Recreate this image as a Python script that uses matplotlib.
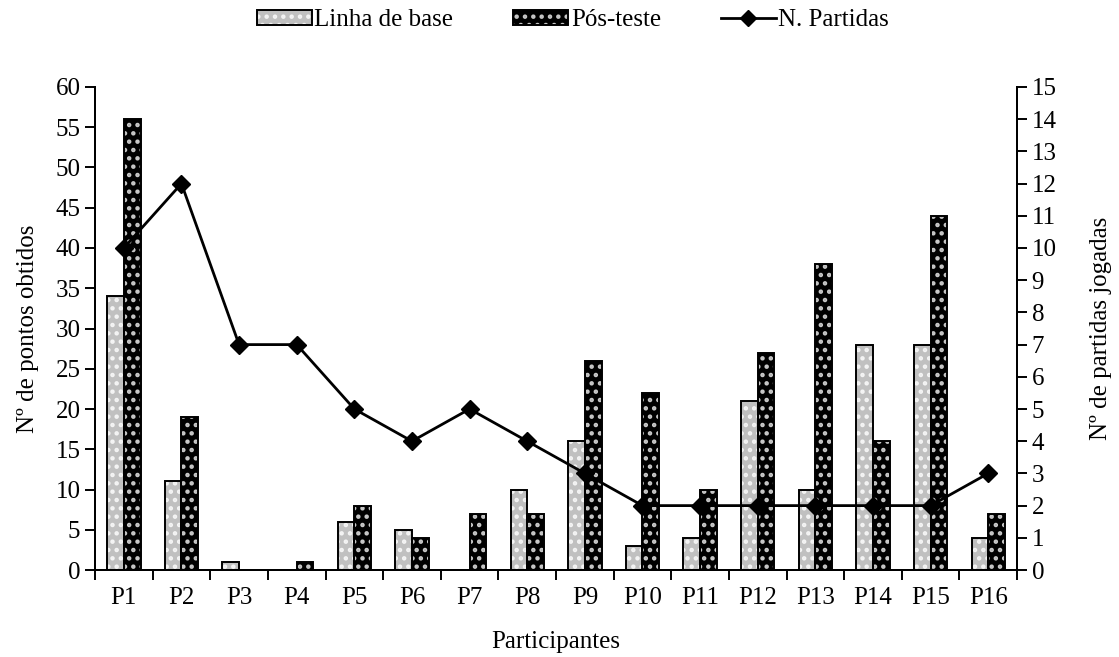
import numpy as np
import matplotlib
matplotlib.use("Agg")
import matplotlib.pyplot as plt
from matplotlib.patches import Patch
from matplotlib.lines import Line2D
from matplotlib.legend_handler import HandlerTuple

# --- dados ---
participantes = [f"P{i}" for i in range(1, 17)]
linha_base = [34, 11, 1, 0, 6, 5, 0, 10, 16, 3, 4, 21, 10, 28, 28, 4]
pos_teste = [56, 19, 0, 1, 8, 4, 7, 7, 26, 22, 10, 27, 38, 16, 44, 7]
n_partidas = [10, 12, 7, 7, 5, 4, 5, 4, 3, 2, 2, 2, 2, 2, 2, 3]

plt.rcParams['font.family'] = ['Liberation Serif', 'DejaVu Serif']
plt.rcParams['hatch.linewidth'] = 2.0
FS = 18

fig = plt.figure(figsize=(11.19, 6.57), dpi=100)
ax = fig.add_axes([0.0849, 0.1324, 0.824, 0.7352])
ax2 = ax.twinx()

x = np.arange(len(participantes))
w = 0.29

# barras: preenchimento com pontos brancos + contorno preto
ax.bar(x - w / 2, linha_base, w, color='#c0c0c0', edgecolor='#f4f4f4', hatch='..', linewidth=0, zorder=2)
ax.bar(x - w / 2, linha_base, w, fill=False, edgecolor='black', linewidth=1.4, zorder=3)
ax.bar(x + w / 2, pos_teste, w, color='black', edgecolor='#c8c8c8', hatch='..', linewidth=0, zorder=2)
ax.bar(x + w / 2, pos_teste, w, fill=False, edgecolor='black', linewidth=1.4, zorder=3)

ax2.plot(x, n_partidas, color='black', linewidth=2, marker='D', markersize=9, zorder=4)

ax.set_xlim(-0.5, len(participantes) - 0.5)
ax.set_ylim(0, 60)
ax2.set_ylim(0, 15)
ax.set_yticks(np.arange(0, 61, 5))
ax2.set_yticks(np.arange(0, 16, 1))

ax.set_xticks(x)
ax.set_xticklabels(participantes)
ax.set_xticks(np.arange(-0.5, len(participantes), 1), minor=True)
ax.tick_params(axis='x', which='major', length=0, pad=12, labelsize=FS)
ax.tick_params(axis='x', which='minor', length=7, width=1.4, direction='out')
ax.tick_params(axis='y', length=7, width=1.4, labelsize=FS)
ax2.tick_params(axis='y', length=7, width=1.4, labelsize=FS)

for a in (ax, ax2):
    a.spines['top'].set_visible(False)
    for s in ('left', 'right', 'bottom'):
        a.spines[s].set_linewidth(1.4)

ax.set_xlabel("Participantes", fontsize=FS, labelpad=16)
ax.set_ylabel("Nº de pontos obtidos", fontsize=FS, labelpad=12)
ax2.set_ylabel("Nº de partidas jogadas", fontsize=FS, labelpad=24)

# legenda
h_base = (Patch(facecolor='#c0c0c0', edgecolor='#f4f4f4', hatch='..', linewidth=0),
          Patch(fill=False, edgecolor='black', linewidth=1.4))
h_pos = (Patch(facecolor='black', edgecolor='#c8c8c8', hatch='..', linewidth=0),
         Patch(fill=False, edgecolor='black', linewidth=1.4))
h_line = Line2D([], [], color='black', linewidth=2, marker='D', markersize=8)
fig.legend([h_base, h_pos, h_line], ["Linha de base", "Pós-teste", "N. Partidas"],
           handler_map={tuple: HandlerTuple(ndivide=1)},
           loc='upper center', bbox_to_anchor=(0.512, 1.02), ncol=3, frameon=False,
           fontsize=FS, handlelength=2.2, handleheight=0.6, handletextpad=0.1, columnspacing=2.4)

fig.savefig("out.png", dpi=100)
